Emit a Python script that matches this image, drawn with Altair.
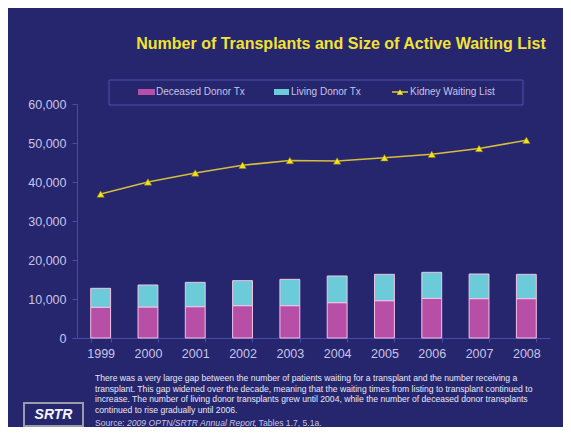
import altair as alt
import pandas as pd

years = ["1999", "2000", "2001", "2002", "2003", "2004", "2005", "2006", "2007", "2008"]
deceased = [7870, 7950, 8030, 8290, 8290, 9060, 9570, 10170, 10090, 10090]
living = [4870, 5640, 6240, 6410, 6750, 6840, 6750, 6670, 6320, 6230]
waiting = [36900, 40000, 42300, 44300, 45500, 45400, 46200, 47100, 48600, 50700]
series = ["Deceased Donor Tx", "Living Donor Tx", "Kidney Waiting List"]
y_ticks = [0, 10000, 20000, 30000, 40000, 50000, 60000]

title_text = "Number of Transplants and Size of Active Waiting List"
paragraph = [
    "There was a very large gap between the number of patients waiting for a transplant and the number receiving a",
    "transplant. This gap widened over the decade, meaning that the waiting times from listing to transplant continued to",
    "increase. The number of living donor transplants grew until 2004, while the number of deceased donor transplants",
    "continued to rise gradually until 2006.",
]
source_parts = ["Source: ", "2009 OPTN/SRTR Annual Report", ", Tables 1.7, 5.1a."]
logo = "SRTR"

BG = "#26266e"
C_DEC = "#b84fa6"
C_LIV = "#6ccbd8"
C_LINE = "#d6bd3c"
C_MARK = "#f4e41c"
AXIS_C = "#4a4aa8"
LABEL_C = "#c8c4e8"
FONT = "Liberation Sans"

bars_df = pd.DataFrame({
    "year": years * 2,
    "type": [series[0]] * len(years) + [series[1]] * len(years),
    "value": deceased + living,
    "order": [0] * len(years) + [1] * len(years),
})
line_df = pd.DataFrame({"year": years, "value": waiting})
one = pd.DataFrame({"k": [0]})

x_scale = alt.Scale(domain=years, paddingInner=0.58, paddingOuter=0.29)
y_scale = alt.Scale(domain=[0, 60000], nice=False)

x_axis = alt.Axis(title=None, labelAngle=0, tickBand="extent", tickSize=4, labelPadding=5,
                  labelFontSize=12.5)
y_axis = alt.Axis(title=None, values=y_ticks, format=",d", grid=False, tickSize=5,
                  labelPadding=6, labelFontSize=12.5)

bars = alt.Chart(bars_df).mark_bar(stroke="#f2c4e6", strokeWidth=1).encode(
    x=alt.X("year:O", scale=x_scale, axis=x_axis),
    y=alt.Y("value:Q", stack="zero", scale=y_scale, axis=y_axis),
    color=alt.Color("type:N", scale=alt.Scale(domain=series[:2], range=[C_DEC, C_LIV]), legend=None),
    order=alt.Order("order:Q"),
)

line = alt.Chart(line_df).mark_line(color=C_LINE, strokeWidth=1.6).encode(
    x=alt.X("year:O", scale=x_scale, axis=x_axis),
    y=alt.Y("value:Q", scale=y_scale, axis=y_axis),
)
pts = alt.Chart(line_df).mark_point(shape="triangle-up", filled=True, color=C_MARK,
                                     size=55, opacity=1, stroke="#8a7a10", strokeWidth=0.5).encode(
    x=alt.X("year:O", scale=x_scale, axis=x_axis),
    y=alt.Y("value:Q", scale=y_scale, axis=y_axis),
)

def txt(text, x, y, **kw):
    return alt.Chart(one).mark_text(font=FONT, **kw).encode(
        x=alt.value(x), y=alt.value(y), text=alt.value(text))

title = txt(title_text, 264, -60, fontSize=16, fontWeight="bold", color="#f2e233",
            align="center", baseline="middle")

legend_box = alt.Chart(one).mark_rect(fillOpacity=0, stroke="#4f4fae", strokeWidth=1).encode(
    x=alt.value(32), x2=alt.value(446), y=alt.value(-24), y2=alt.value(1))
sw1 = alt.Chart(one).mark_rect(color=C_DEC).encode(
    x=alt.value(61), x2=alt.value(78), y=alt.value(-15), y2=alt.value(-9))
sw2 = alt.Chart(one).mark_rect(color=C_LIV).encode(
    x=alt.value(197), x2=alt.value(212), y=alt.value(-15), y2=alt.value(-9))
lg_rule = alt.Chart(one).mark_rule(color=C_LINE, strokeWidth=1.6).encode(
    x=alt.value(315), x2=alt.value(331), y=alt.value(-12))
lg_pt = alt.Chart(one).mark_point(shape="triangle-up", filled=True, color=C_MARK, size=40, opacity=1).encode(
    x=alt.value(323), y=alt.value(-12))
lt1 = txt(series[0], 79, -12, fontSize=10, color=LABEL_C, align="left", baseline="middle")
lt2 = txt(series[1], 214, -12, fontSize=10, color=LABEL_C, align="left", baseline="middle")
lt3 = txt(series[2], 333, -12, fontSize=10, color=LABEL_C, align="left", baseline="middle")

para = txt("\n".join(paragraph), 18, 270, fontSize=8.6, color="#e6e6f4", align="left",
           baseline="top", lineBreak="\n", lineHeight=10.7)
src1 = txt(source_parts[0], 18, 319, fontSize=8.6, color=LABEL_C, align="left", baseline="middle")
src2 = txt(source_parts[1], 50, 319, fontSize=8.6, color=LABEL_C, align="left", baseline="middle",
           fontStyle="italic")
src3 = txt(source_parts[2], 177, 319, fontSize=8.6, color=LABEL_C, align="left", baseline="middle")

logo_box = alt.Chart(one).mark_rect(fillOpacity=0, stroke="#9a9aaa", strokeWidth=2).encode(
    x=alt.value(-53), x2=alt.value(6), y=alt.value(299), y2=alt.value(322))
logo_t = txt(logo, -23.5, 311, fontSize=14, fontWeight="bold", fontStyle="italic",
             color="#f4f4ff", align="center", baseline="middle")

chart = alt.layer(
    bars, line, pts, title, legend_box, sw1, sw2, lg_rule, lg_pt, lt1, lt2, lt3,
    para, src1, src2, src3, logo_box, logo_t,
).properties(
    width=473, height=234,
    autosize=alt.AutoSizeParams(type="none"),
    padding={"left": 69, "top": 96, "right": 13, "bottom": 89},
    background=BG,
).configure_view(stroke=None).configure_axis(
    domainColor=AXIS_C, tickColor=AXIS_C, labelColor=LABEL_C, labelFont=FONT,
).resolve_scale(x="shared", y="shared")

chart.save("out.html", embed_options={"renderer": "svg", "actions": False})
